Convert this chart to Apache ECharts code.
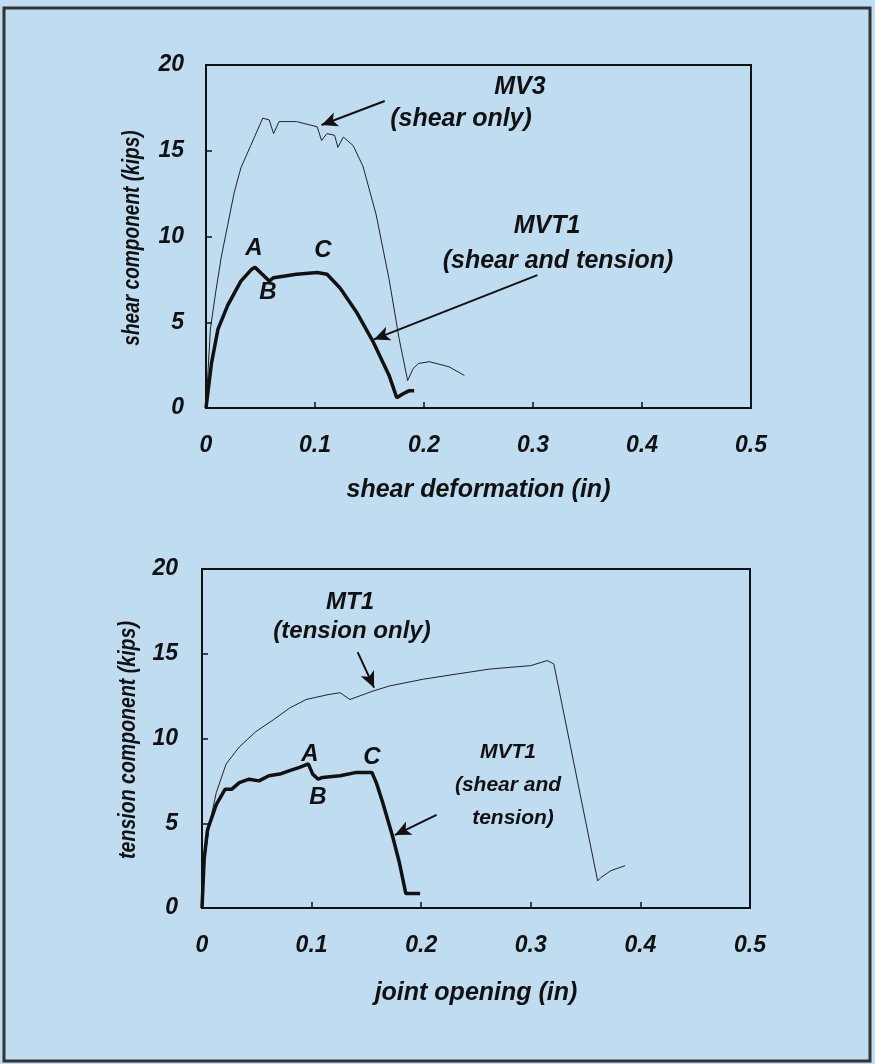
<!DOCTYPE html>
<html>
<head>
    <meta charset="UTF-8">
    <title>shear / tension</title>
    <script type="text/javascript" src="https://cdn.jsdelivr.net/npm/echarts@6/dist/echarts.min.js"></script>
    <style>
        body { margin: 0; background: #c0dcf1; }
        #chart { width: 875px; height: 1064px; }
    </style>
</head>
<body>
<div id="chart"></div>
<script>
    // tick values
    var xTicks = [0, 0.1, 0.2, 0.3, 0.4, 0.5];
    var yTicks = [0, 5, 10, 15, 20];

    // top chart: shear component vs shear deformation
    var mv3X = [0, 0.004, 0.009, 0.014, 0.020, 0.026, 0.032, 0.041, 0.050, 0.052, 0.058, 0.062, 0.067, 0.083, 0.102, 0.106, 0.111, 0.118, 0.121, 0.126, 0.135, 0.144, 0.156, 0.168, 0.177, 0.185, 0.190, 0.195, 0.205, 0.223, 0.237];
    var mv3Y = [0, 4.6, 6.8, 8.8, 10.7, 12.6, 14.0, 15.3, 16.6, 16.9, 16.8, 16.0, 16.7, 16.7, 16.4, 15.6, 16.0, 15.9, 15.2, 15.8, 15.3, 14.1, 11.3, 7.5, 4.1, 1.6, 2.3, 2.6, 2.7, 2.4, 1.9];

    var mvt1sX = [0, 0.005, 0.011, 0.020, 0.032, 0.042, 0.045, 0.058, 0.062, 0.083, 0.102, 0.111, 0.123, 0.138, 0.153, 0.168, 0.175, 0.180, 0.186, 0.191];
    var mvt1sY = [0, 2.6, 4.6, 6.0, 7.4, 8.1, 8.2, 7.4, 7.6, 7.8, 7.9, 7.8, 7.0, 5.6, 3.9, 1.9, 0.6, 0.8, 1.0, 1.0];

    // bottom chart: tension component vs joint opening
    var mt1X = [0, 0.002, 0.007, 0.013, 0.022, 0.034, 0.049, 0.065, 0.080, 0.095, 0.116, 0.126, 0.135, 0.156, 0.171, 0.202, 0.232, 0.263, 0.300, 0.315, 0.321, 0.361, 0.364, 0.373, 0.386];
    var mt1Y = [0, 2.7, 5.0, 6.8, 8.5, 9.5, 10.4, 11.1, 11.8, 12.3, 12.6, 12.7, 12.3, 12.8, 13.1, 13.5, 13.8, 14.1, 14.3, 14.6, 14.4, 1.6, 1.8, 2.2, 2.5];

    var mvt1tX = [0, 0.002, 0.005, 0.013, 0.021, 0.027, 0.034, 0.043, 0.052, 0.061, 0.071, 0.080, 0.089, 0.097, 0.101, 0.106, 0.110, 0.126, 0.141, 0.155, 0.159, 0.165, 0.174, 0.180, 0.186, 0.199];
    var mvt1tY = [0, 2.9, 4.6, 6.1, 7.0, 7.0, 7.4, 7.6, 7.5, 7.8, 7.9, 8.1, 8.3, 8.5, 7.9, 7.6, 7.7, 7.8, 8.0, 8.0, 7.4, 6.2, 4.2, 2.7, 0.85, 0.85];

    function pairs(xs, ys) {
        return xs.map(function (x, i) { return [x, ys[i]]; });
    }

    var font = "'Liberation Sans', Arial, sans-serif";

    function xAxisOf(grid, name, gap) {
        return {
            gridIndex: grid, type: 'value', min: 0, max: 0.5, interval: 0.1,
            name: name, nameLocation: 'middle', nameGap: gap,
            nameTextStyle: { fontFamily: font, fontWeight: 'bold', fontStyle: 'italic', fontSize: 25, color: '#111' },
            axisLine: { lineStyle: { color: '#111', width: 2 } },
            axisTick: { inside: true, length: 6, lineStyle: { color: '#111', width: 1.5 } },
            axisLabel: { margin: 26, fontFamily: font, fontWeight: 'bold', fontStyle: 'italic', fontSize: 23, color: '#111',
                formatter: function (v) { return v === 0 ? '0' : v.toFixed(1); } },
            splitLine: { show: false }
        };
    }

    function yAxisOf(grid, margin) {
        return {
            gridIndex: grid, type: 'value', min: 0, max: 20, interval: 5,
            axisLine: { lineStyle: { color: '#111', width: 2 } },
            axisTick: { inside: true, length: 6, lineStyle: { color: '#111', width: 1.5 } },
            axisLabel: { margin: margin, fontFamily: font, fontWeight: 'bold', fontStyle: 'italic', fontSize: 23, color: '#111' },
            splitLine: { show: false }
        };
    }

    function arrow(from, to) {
        return [{ coord: from }, { coord: to }];
    }

    function label(x, y, text, size) {
        return { type: 'text', x: x, y: y, style: { text: text, fontFamily: font, fontWeight: 'bold', fontStyle: 'italic',
            fontSize: size, fill: '#111', textAlign: 'center', textVerticalAlign: 'middle' } };
    }

    // rotated, slightly condensed y-axis title
    function yTitle(x, y, text, squeeze) {
        var t = label(x, y, text, 23);
        t.rotation = Math.PI / 2;
        t.scaleX = squeeze;
        return t;
    }

    var arrowLine = {
        silent: true, symbol: ['none', 'arrow'], symbolSize: [11, 16],
        lineStyle: { color: '#111', width: 2, type: 'solid' }, label: { show: false }
    };

    var chart = echarts.init(document.getElementById('chart'));
    chart.setOption({
        backgroundColor: '#c0dcf1',
        animation: false,
        grid: [
            { left: 206, top: 65, width: 545, height: 343, show: true, borderColor: '#111', borderWidth: 2, backgroundColor: 'transparent' },
            { left: 202, top: 569, width: 548, height: 339, show: true, borderColor: '#111', borderWidth: 2, backgroundColor: 'transparent' }
        ],
        xAxis: [xAxisOf(0, 'shear deformation (in)', 70), xAxisOf(1, 'joint opening (in)', 73)],
        yAxis: [yAxisOf(0, 22), yAxisOf(1, 24)],
        series: [
            { name: 'MV3', type: 'line', xAxisIndex: 0, yAxisIndex: 0, showSymbol: false,
                lineStyle: { color: '#222', width: 1 }, data: pairs(mv3X, mv3Y),
                markLine: Object.assign({ data: [arrow([0.164, 17.9], [0.106, 16.5])] }, arrowLine) },
            { name: 'MVT1', type: 'line', xAxisIndex: 0, yAxisIndex: 0, showSymbol: false,
                lineStyle: { color: '#111', width: 3.5 }, data: pairs(mvt1sX, mvt1sY),
                markLine: Object.assign({ data: [arrow([0.304, 7.75], [0.154, 4.0])] }, arrowLine) },
            { name: 'MT1', type: 'line', xAxisIndex: 1, yAxisIndex: 1, showSymbol: false,
                lineStyle: { color: '#222', width: 1 }, data: pairs(mt1X, mt1Y),
                markLine: Object.assign({ data: [arrow([0.142, 15.1], [0.157, 13.0])] }, arrowLine) },
            { name: 'MVT1 ', type: 'line', xAxisIndex: 1, yAxisIndex: 1, showSymbol: false,
                lineStyle: { color: '#111', width: 3.5 }, data: pairs(mvt1tX, mvt1tY),
                markLine: Object.assign({ data: [arrow([0.214, 5.5], [0.176, 4.3])] }, arrowLine) }
        ],
        graphic: [
            { type: 'rect', shape: { x: 4, y: 8, width: 866, height: 1053 }, style: { fill: 'none', stroke: '#333', lineWidth: 3 } },
            yTitle(133, 238, 'shear component (kips)', 0.83),
            yTitle(129, 740, 'tension component (kips)', 0.85),
            label(520, 87, 'MV3', 25),
            label(461, 119, '(shear only)', 25),
            label(547, 226, 'MVT1', 25),
            label(558, 261, '(shear and tension)', 25),
            label(254, 248, 'A', 24),
            label(268, 292, 'B', 24),
            label(323, 250, 'C', 24),
            label(350, 602, 'MT1', 24),
            label(352, 631, '(tension only)', 24),
            label(310, 754, 'A', 24),
            label(318, 797, 'B', 24),
            label(372, 757, 'C', 24),
            label(508, 752, 'MVT1', 21),
            label(508, 785, '(shear and', 21),
            label(513, 818, 'tension)', 21)
        ]
    });
</script>
</body>
</html>
